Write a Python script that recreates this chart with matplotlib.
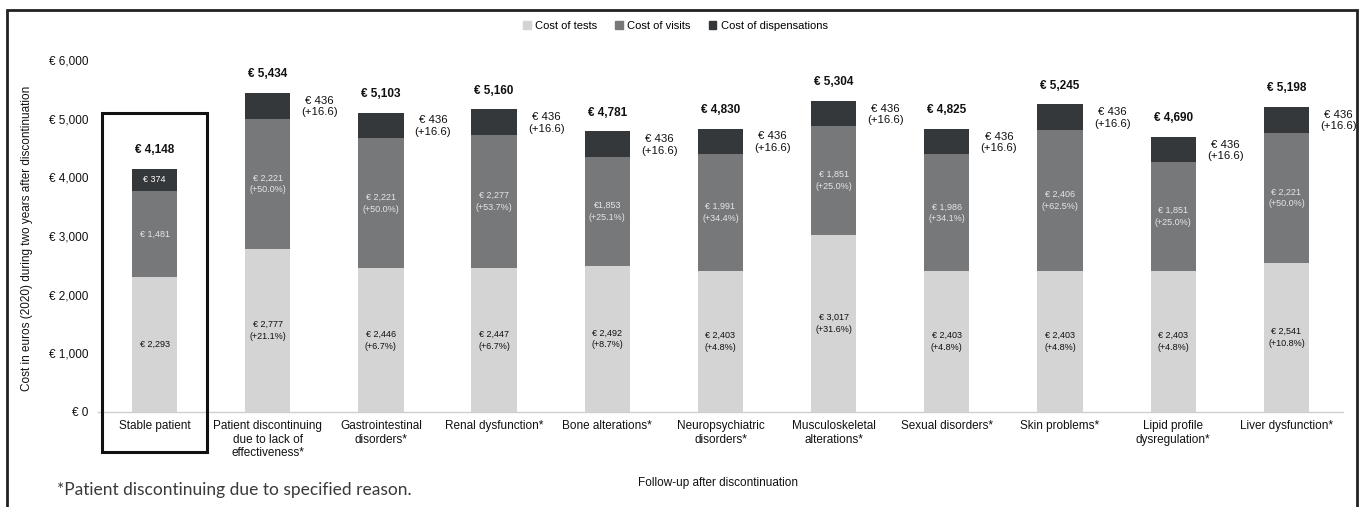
import matplotlib.pyplot as plt
from matplotlib.patches import Rectangle, Patch

plt.rcParams['font.family'] = ['Liberation Sans', 'DejaVu Sans']

# Data
categories = ['Stable patient', 'Patient discontinuing\ndue to lack of\neffectiveness*',
              'Gastrointestinal\ndisorders*', 'Renal dysfunction*', 'Bone alterations*',
              'Neuropsychiatric\ndisorders*', 'Musculoskeletal\nalterations*', 'Sexual disorders*',
              'Skin problems*', 'Lipid profile\ndysregulation*', 'Liver dysfunction*']
tests = [2293, 2777, 2446, 2447, 2492, 2403, 3017, 2403, 2403, 2403, 2541]
visits = [1481, 2221, 2221, 2277, 1853, 1991, 1851, 1986, 2406, 1851, 2221]
dispensations = [374, 436, 436, 436, 436, 436, 436, 436, 436, 436, 436]
totals = [4148, 5434, 5103, 5160, 4781, 4830, 5304, 4825, 5245, 4690, 5198]

tests_labels = ['€ 2,293', '€ 2,777\n(+21.1%)', '€ 2,446\n(+6.7%)', '€ 2,447\n(+6.7%)',
                '€ 2,492\n(+8.7%)', '€ 2,403\n(+4.8%)', '€ 3,017\n(+31.6%)', '€ 2,403\n(+4.8%)',
                '€ 2,403\n(+4.8%)', '€ 2,403\n(+4.8%)', '€ 2,541\n(+10.8%)']
visits_labels = ['€ 1,481', '€ 2,221\n(+50.0%)', '€ 2,221\n(+50.0%)', '€ 2,277\n(+53.7%)',
                 '€1,853\n(+25.1%)', '€ 1,991\n(+34.4%)', '€ 1,851\n(+25.0%)', '€ 1,986\n(+34.1%)',
                 '€ 2,406\n(+62.5%)', '€ 1,851\n(+25.0%)', '€ 2,221\n(+50.0%)']
disp_side_label = '€ 436\n(+16.6)'
yticks = [0, 1000, 2000, 3000, 4000, 5000, 6000]

c_tests = '#d4d4d4'
c_visits = '#76787a'
c_disp = '#35383b'

fig = plt.figure(figsize=(13.7, 5.07), dpi=100)
ax = fig.add_axes([0.0715, 0.1874, 0.9088, 0.6943])

x = list(range(len(categories)))
w = 0.4
bottom2 = [t + v for t, v in zip(tests, visits)]
ax.bar(x, tests, w, color=c_tests)
ax.bar(x, visits, w, bottom=tests, color=c_visits)
ax.bar(x, dispensations, w, bottom=bottom2, color=c_disp)

for i in x:
    ax.text(i, tests[i] / 2, tests_labels[i], ha='center', va='center',
            fontsize=6.5, color='#111111', linespacing=1.4)
    ax.text(i, tests[i] + visits[i] / 2, visits_labels[i], ha='center', va='center',
            fontsize=6.5, color='#e6e6e6', linespacing=1.4)
    ax.annotate(f'€ {totals[i]:,}', (i, totals[i]), xytext=(0, 13.5), textcoords='offset points',
                ha='center', va='center', fontsize=8.5, fontweight='bold', color='#111111')
    if i == 0:
        ax.text(i, bottom2[i] + dispensations[i] / 2, f'€ {dispensations[i]}', ha='center',
                va='center', fontsize=6.5, color='white')
    else:
        ax.text(i + 0.46, totals[i] - 230, disp_side_label, ha='center', va='center',
                fontsize=8.2, color='#111111', linespacing=1.2)

# box around the stable patient
ax.add_patch(Rectangle((-0.46, -680), 0.92, 5775, fill=False, lw=2.2,
                       ec='#111111', clip_on=False, zorder=5))

ax.set_xlim(-0.5, 10.5)
ax.set_ylim(0, 6000)
ax.set_yticks(yticks)
ax.set_yticklabels([f'€ {v:,}' for v in yticks])
ax.set_xticks(x)
ax.set_xticklabels(categories, linespacing=1.15)
ax.tick_params(axis='y', length=0, pad=7, labelsize=8.5, labelcolor='#111111')
ax.tick_params(axis='x', length=0, pad=6, labelsize=8.5, labelcolor='#111111')
for s in ['top', 'right', 'left']:
    ax.spines[s].set_visible(False)
ax.spines['bottom'].set_color('#cfcfcf')
ax.spines['bottom'].set_linewidth(1)

fig.text(27 / 1370, 0.53, 'Cost in euros (2020) during two years after discontinuation',
         rotation=90, ha='center', va='center', fontsize=8.5, color='#111111')
fig.text(0.524, 0.047, 'Follow-up after discontinuation', ha='center', va='center',
         fontsize=8.5, color='#111111')
fig.text(57 / 1370, 0.034, '*Patient discontinuing due to specified reason.', ha='left',
         va='center', fontsize=12.5, color='#3a3a3a', family=['Lato', 'DejaVu Sans'])

handles = [Patch(color=c_tests, label='Cost of tests'),
           Patch(color=c_visits, label='Cost of visits'),
           Patch(color=c_disp, label='Cost of dispensations')]
fig.legend(handles=handles, loc='center', bbox_to_anchor=(0.493, 0.949), ncol=3,
           frameon=False, fontsize=8, handlelength=0.7, handleheight=0.7,
           handletextpad=0.4, columnspacing=1.6)

# outer frame (open at the bottom)
fig.add_artist(Rectangle((7 / 1370, -0.1), 1350 / 1370, (497 / 507) + 0.1,
                         transform=fig.transFigure, fill=False, lw=2, ec='#222222'))

fig.savefig('out.png', dpi=100)
